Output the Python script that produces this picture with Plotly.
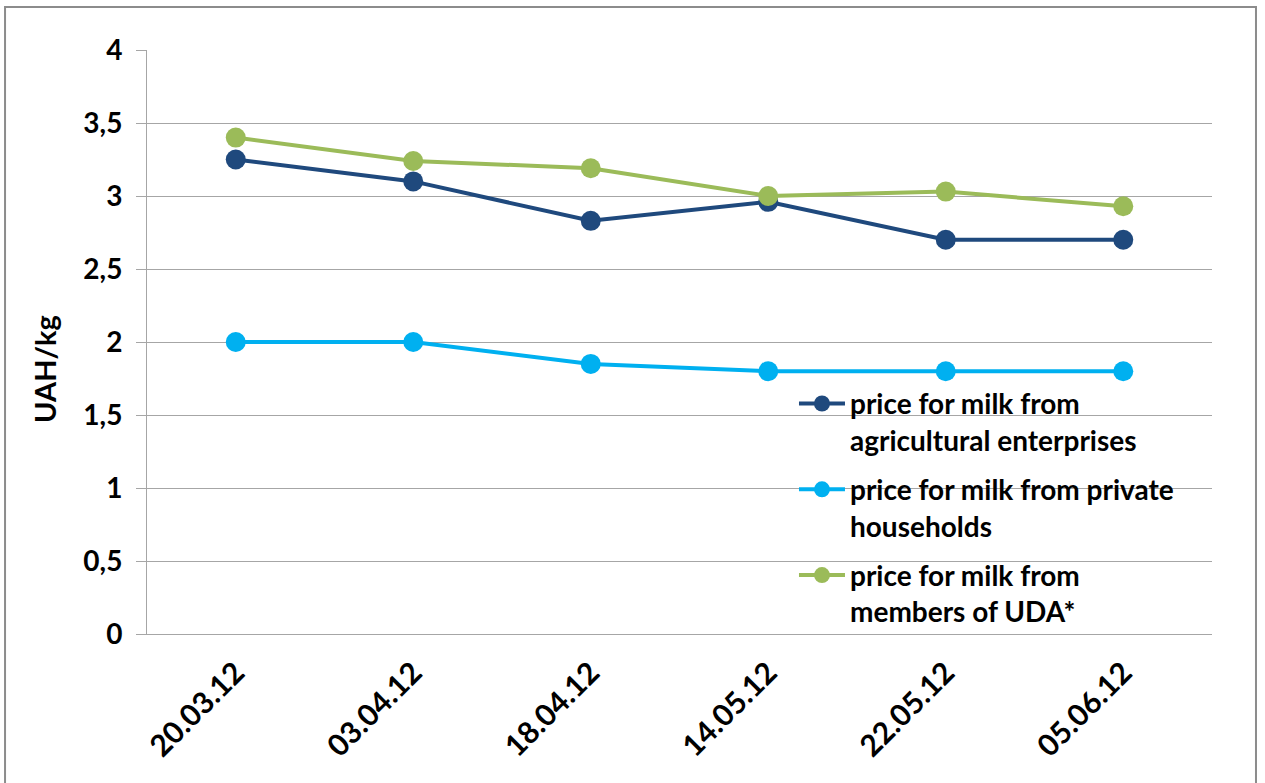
import plotly.graph_objects as go

dates = ["20.03.12", "03.04.12", "18.04.12", "14.05.12", "22.05.12", "05.06.12"]
agri = [3.25, 3.10, 2.83, 2.96, 2.70, 2.70]
private = [2.00, 2.00, 1.85, 1.80, 1.80, 1.80]
uda = [3.40, 3.24, 3.19, 3.00, 3.03, 2.93]

y_tickvals = [0, 0.5, 1, 1.5, 2, 2.5, 3, 3.5, 4]
y_ticktext = ["0", "0,5", "1", "1,5", "2", "2,5", "3", "3,5", "4"]

names = ["price for milk from<br>agricultural enterprises",
         "price for milk from private<br>households",
         "price for milk from<br>members of UDA*"]
colors = ["#1F497D", "#00B0F0", "#9BBB59"]

fig = go.Figure()
for i, (vals, name, col) in enumerate(zip([agri, private, uda], names, colors)):
    fig.add_trace(go.Scatter(
        x=dates, y=vals, name=name, mode="lines+markers",
        line=dict(color=col, width=4),
        marker=dict(color=col, size=20),
        legendgroup=f"g{i}",
    ))

font_fam = "Lato, 'Open Sans', sans-serif"
fig.update_layout(
    width=1265, height=783,
    margin=dict(l=147, r=53, t=50, b=149),
    paper_bgcolor="white", plot_bgcolor="white",
    font=dict(family=font_fam, color="black", size=20),
    showlegend=True,
    legend=dict(x=0.6075, y=0.437, xanchor="left", yanchor="top",
                font=dict(size=28, family=font_fam, weight="bold"),
                tracegroupgap=10, bgcolor="rgba(0,0,0,0)", itemwidth=46,
                valign="top"),
    xaxis=dict(type="category", range=[-0.5, 5.5], showgrid=False,
               showline=True, linecolor="#a6a6a6", linewidth=1,
               tickangle=-45, ticks="", ticklabelstandoff=8,
               tickfont=dict(size=30, family=font_fam, weight="bold")),
    yaxis=dict(range=[0, 4], showgrid=True, gridcolor="#a6a6a6",
               gridwidth=1, showline=True, linecolor="#a6a6a6", linewidth=1,
               ticks="outside", ticklen=10, tickcolor="#a6a6a6",
               ticklabelstandoff=8,
               tickvals=y_tickvals, ticktext=y_ticktext,
               tickfont=dict(size=28, family=font_fam, weight="bold"),
               zeroline=False),
    separators=", ",
)

fig.add_annotation(text="UAH/kg", xref="paper", yref="paper",
                   x=-0.0958, y=0.4538, xanchor="center", yanchor="middle",
                   textangle=-90, showarrow=False,
                   font=dict(size=29, family=font_fam, weight="bold", color="black"))

fig.add_shape(type="rect", xref="paper", yref="paper",
              x0=-0.1333, x1=1.0413, y0=-0.27, y1=1.0736,
              line=dict(color="#8c8c8c", width=2), fillcolor="rgba(0,0,0,0)",
              layer="below")

fig.write_html("out.html", config={"displayModeBar": False},
               post_script="document.body.style.margin='0';")
